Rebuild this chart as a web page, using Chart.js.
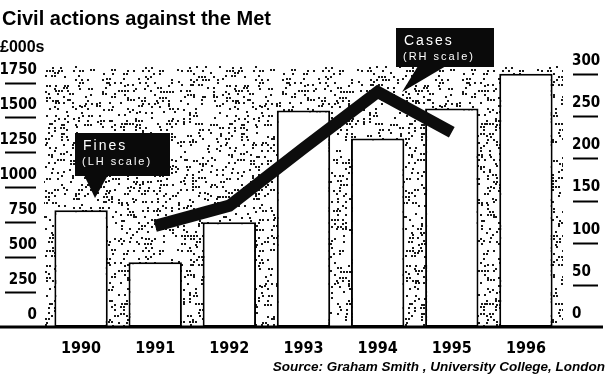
<!DOCTYPE html>
<html>
<head>
<meta charset="utf-8">
<script src="https://cdn.jsdelivr.net/npm/chart.js@4.4.1/dist/chart.umd.min.js"></script>
<style>
  html, body { margin: 0; padding: 0; background: #fff; }
  #wrap { width: 611px; height: 375px; }
</style>
</head>
<body>
<div id="wrap"><canvas id="chart" width="611" height="375"></canvas></div>
<script>
// chart values
const years = ['1990', '1991', '1992', '1993', '1994', '1995', '1996'];
const finesThousands = [836, 464, 750, 1550, 1350, 1564, 1814];   // LH scale, £000s
const casesCount = [null, 120, 144, 212, 279, 231, null];        // RH scale
const leftStep = 250;
const rightStep = 50;

const cond = '"DejaVu Sans Condensed", "Liberation Sans", Arial, sans-serif';
const plain = '"Liberation Sans", Arial, sans-serif';

// grainy grey background like the scanned print
function makeStipple() {
  const c = document.createElement('canvas');
  c.width = 180; c.height = 180;
  const g = c.getContext('2d');
  g.fillStyle = '#fff';
  g.fillRect(0, 0, 180, 180);
  g.fillStyle = '#1a1a1a';
  let s = 12345;
  for (let y = 0; y < 180; y += 3) {
    for (let x = 0; x < 180; x += 3) {
      s = (s * 1103515245 + 12345) & 0x7fffffff;
      if (s % 100 < 28) g.fillRect(x + ((s >> 8) & 1), y + ((s >> 9) & 1), 2, 2);
    }
  }
  return g.createPattern(c, 'repeat');
}

const stipplePlugin = {
  id: 'stipple',
  beforeDatasetsDraw(chart) {
    const a = chart.chartArea;
    const ctx = chart.ctx;
    ctx.save();
    ctx.fillStyle = makeStipple();
    ctx.fillRect(a.left, a.top - 4, a.right - a.left, a.bottom - a.top + 4);
    ctx.restore();
  }
};

// short rules under each tick label, baseline, title, boxes, source
const decorPlugin = {
  id: 'decor',
  afterDraw(chart) {
    const ctx = chart.ctx;
    const yl = chart.scales.yLeft;
    const yr = chart.scales.yRight;
    ctx.save();
    ctx.strokeStyle = '#000';
    ctx.lineWidth = 2;
    yl.ticks.forEach(t => {
      if (t.value === 0) return;
      const y = Math.round(yl.getPixelForValue(t.value)) + 0.5;
      ctx.beginPath(); ctx.moveTo(5, y); ctx.lineTo(36, y); ctx.stroke();
    });
    yr.ticks.forEach(t => {
      if (t.value === 0) return;
      const y = Math.round(yr.getPixelForValue(t.value)) + 0.5;
      ctx.beginPath(); ctx.moveTo(573, y); ctx.lineTo(598, y); ctx.stroke();
    });
    // baseline
    const by = yl.getPixelForValue(0);
    ctx.lineWidth = 3;
    ctx.beginPath(); ctx.moveTo(0, by); ctx.lineTo(603, by); ctx.stroke();

    // title + unit
    ctx.fillStyle = '#000';
    ctx.textBaseline = 'middle';
    ctx.textAlign = 'left';
    ctx.font = 'bold 20px ' + plain;
    ctx.fillText('Civil actions against the Met', 2, 19);
    ctx.font = 'bold 16px ' + plain;
    ctx.fillText('£000s', 0, 48);

    // source
    ctx.textAlign = 'right';
    ctx.font = 'italic bold 13.5px ' + plain;
    ctx.fillText('Source: Graham Smith , University College, London', 605, 367);

    // label boxes
    function box(x, y, w, h, tail, title, sub) {
      ctx.fillStyle = '#0a0a0a';
      ctx.fillRect(x, y, w, h);
      ctx.beginPath();
      ctx.moveTo(tail[0][0], tail[0][1]);
      ctx.lineTo(tail[1][0], tail[1][1]);
      ctx.lineTo(tail[2][0], tail[2][1]);
      ctx.closePath();
      ctx.fill();
      ctx.fillStyle = '#fff';
      ctx.textAlign = 'left';
      ctx.letterSpacing = '2px';
      ctx.font = '14px ' + plain;
      ctx.fillText(title, x + 8, y + 13);
      ctx.letterSpacing = '2px';
      ctx.font = '11px ' + plain;
      ctx.fillText(sub, x + 7, y + 29);
      ctx.letterSpacing = '0px';
    }
    box(75, 133, 95, 43, [[84, 175], [108, 175], [95, 198]], 'Fines', '(LH scale)');
    box(396, 28, 98, 39, [[418, 66], [446, 66], [402, 92]], 'Cases', '(RH scale)');
    ctx.restore();
  }
};

new Chart(document.getElementById('chart'), {
  data: {
    labels: years,
    datasets: [
      {
        type: 'line',
        label: 'Cases',
        data: casesCount,
        yAxisID: 'yRight',
        borderColor: '#0d0d0d',
        borderWidth: 12,
        borderCapStyle: 'butt',
        borderJoinStyle: 'miter',
        pointRadius: 0,
        tension: 0,
        order: 0
      },
      {
        type: 'bar',
        label: 'Fines',
        data: finesThousands,
        yAxisID: 'yLeft',
        backgroundColor: '#fff',
        borderColor: '#000',
        borderWidth: 2,
        borderSkipped: false,
        barPercentage: 0.72,
        categoryPercentage: 1,
        order: 1
      }
    ]
  },
  options: {
    responsive: false,
    animation: false,
    devicePixelRatio: 1,
    layout: { padding: { top: 70, left: 0, right: 0, bottom: 0 } },
    plugins: { legend: { display: false }, tooltip: { enabled: false }, title: { display: false } },
    scales: {
      x: {
        grid: { display: false, drawTicks: false },
        border: { display: false },
        ticks: { color: '#000', padding: 12, font: { family: cond, weight: 'bold', size: 16 } },
        afterFit(s) { s.height = 48; }
      },
      yLeft: {
        position: 'left',
        min: 0,
        max: 1840,
        grid: { display: false, drawTicks: false },
        border: { display: false },
        ticks: {
          stepSize: leftStep,
          includeBounds: false,
          color: '#000',
          padding: 7,
          labelOffset: -12,
          font: { family: cond, weight: 'bold', size: 15 },
          callback: v => String(v)
        },
        afterBuildTicks(s) { s.ticks = s.ticks.filter(t => t.value % leftStep === 0); },
        afterFit(s) { s.width = 44; }
      },
      yRight: {
        position: 'right',
        min: 0,
        max: 305,
        grid: { display: false, drawTicks: false },
        border: { display: false },
        ticks: {
          stepSize: rightStep,
          includeBounds: false,
          color: '#000',
          padding: 9,
          labelOffset: -13,
          font: { family: cond, weight: 'bold', size: 15 },
          callback: v => String(v)
        },
        afterBuildTicks(s) { s.ticks = s.ticks.filter(t => t.value % rightStep === 0); },
        afterFit(s) { s.width = 48; }
      }
    }
  },
  plugins: [stipplePlugin, decorPlugin]
});
</script>
</body>
</html>
